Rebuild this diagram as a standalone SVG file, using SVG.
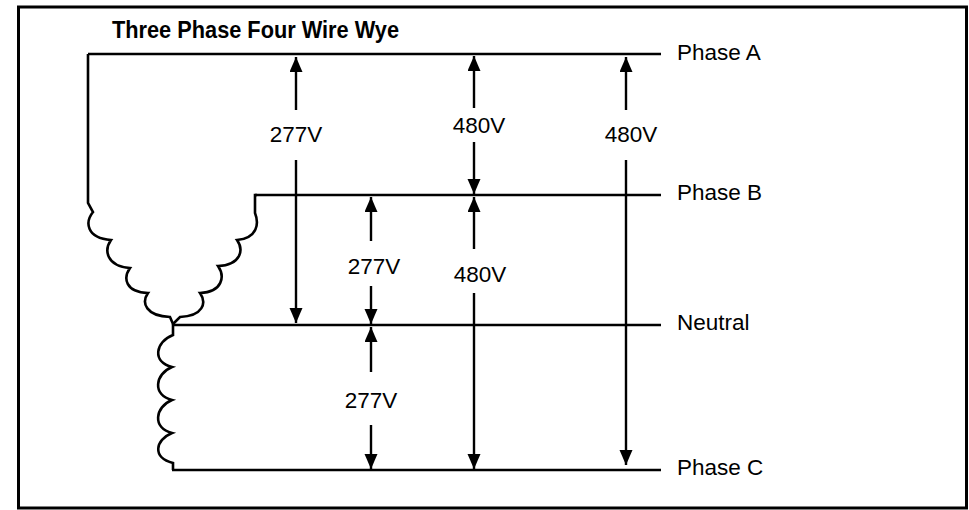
<svg xmlns="http://www.w3.org/2000/svg" width="969" height="510" viewBox="0 0 969 510">
<style>
  .wire{fill:none;stroke:#000;stroke-width:2.6;stroke-linejoin:miter}
  .dim{fill:none;stroke:#000;stroke-width:2.4}
  .lbl{font-family:"Liberation Sans",Arial,sans-serif;font-size:22.5px;fill:#000}
  .title{font-family:"Liberation Sans",Arial,sans-serif;font-size:24px;font-weight:bold;fill:#000}
</style>
<defs>
  <marker id="ah" markerUnits="userSpaceOnUse" markerWidth="16" markerHeight="14" refX="15" refY="6.5" orient="auto">
    <path d="M0,0 L15,6.5 L0,13 Z" fill="#000"/>
  </marker>
</defs>
<rect x="0" y="0" width="969" height="510" fill="#fff"/>
<rect x="18.5" y="7" width="948" height="501" fill="none" stroke="#000" stroke-width="3"/>
<text class="title" x="112" y="38" textLength="287" lengthAdjust="spacingAndGlyphs">Three Phase Four Wire Wye</text>

<g id="winding-a">
  <path class="wire" d="M88,54 L88,203 L93,212 C85,222 86,238 111,240 C104,250 106,266 130,268 C123,278 125,292 148,293 C141,303 146,316 170,317 L173,324"/>
</g>
<g id="winding-b">
  <path class="wire" d="M257,195 L255,195 L255,213 C259,223 258,238 237,240 C244,250 241,265 218,266 C225,276 223,292 200,293 C207,303 203,316 180,317 L173,324"/>
</g>
<g id="winding-c">
  <path class="wire" d="M173,324 L173,335 C155,342 152,362 172,367 C155,374 152,395 172,400 C155,407 152,428 172,433 C155,440 152,458 173,463 L173,470"/>
</g>

<g id="phase-a">
  <line class="wire" x1="88" y1="54" x2="661" y2="54"/>
  <text class="lbl" x="677" y="60">Phase A</text>
</g>
<g id="phase-b">
  <line class="wire" x1="255" y1="195" x2="661" y2="195"/>
  <text class="lbl" x="677" y="200">Phase B</text>
</g>
<g id="neutral">
  <line class="wire" x1="173" y1="325" x2="661" y2="325"/>
  <text class="lbl" x="677" y="330">Neutral</text>
</g>
<g id="phase-c">
  <line class="wire" x1="172" y1="470" x2="661" y2="470"/>
  <text class="lbl" x="677" y="475">Phase C</text>
</g>

<g id="connectors">
  <line class="dim" x1="296" y1="110" x2="296" y2="57" marker-end="url(#ah)"/>
  <line class="dim" x1="296" y1="160" x2="296" y2="323" marker-end="url(#ah)"/>
  <line class="dim" x1="474" y1="108" x2="474" y2="56" marker-end="url(#ah)"/>
  <line class="dim" x1="474" y1="142" x2="474" y2="194" marker-end="url(#ah)"/>
  <line class="dim" x1="474" y1="249" x2="474" y2="197" marker-end="url(#ah)"/>
  <line class="dim" x1="474" y1="293" x2="474" y2="469" marker-end="url(#ah)"/>
  <line class="dim" x1="626" y1="110" x2="626" y2="57" marker-end="url(#ah)"/>
  <line class="dim" x1="626" y1="160" x2="626" y2="465" marker-end="url(#ah)"/>
  <line class="dim" x1="371" y1="241" x2="371" y2="197" marker-end="url(#ah)"/>
  <line class="dim" x1="371" y1="286" x2="371" y2="324" marker-end="url(#ah)"/>
  <line class="dim" x1="371" y1="372" x2="371" y2="327" marker-end="url(#ah)"/>
  <line class="dim" x1="371" y1="425" x2="371" y2="469" marker-end="url(#ah)"/>
</g>

<g id="labels">
  <text class="lbl" x="296" y="142" text-anchor="middle">277V</text>
  <text class="lbl" x="479" y="133" text-anchor="middle">480V</text>
  <text class="lbl" x="631" y="142" text-anchor="middle">480V</text>
  <text class="lbl" x="374" y="274" text-anchor="middle">277V</text>
  <text class="lbl" x="480" y="282" text-anchor="middle">480V</text>
  <text class="lbl" x="371" y="408" text-anchor="middle">277V</text>
</g>
</svg>
